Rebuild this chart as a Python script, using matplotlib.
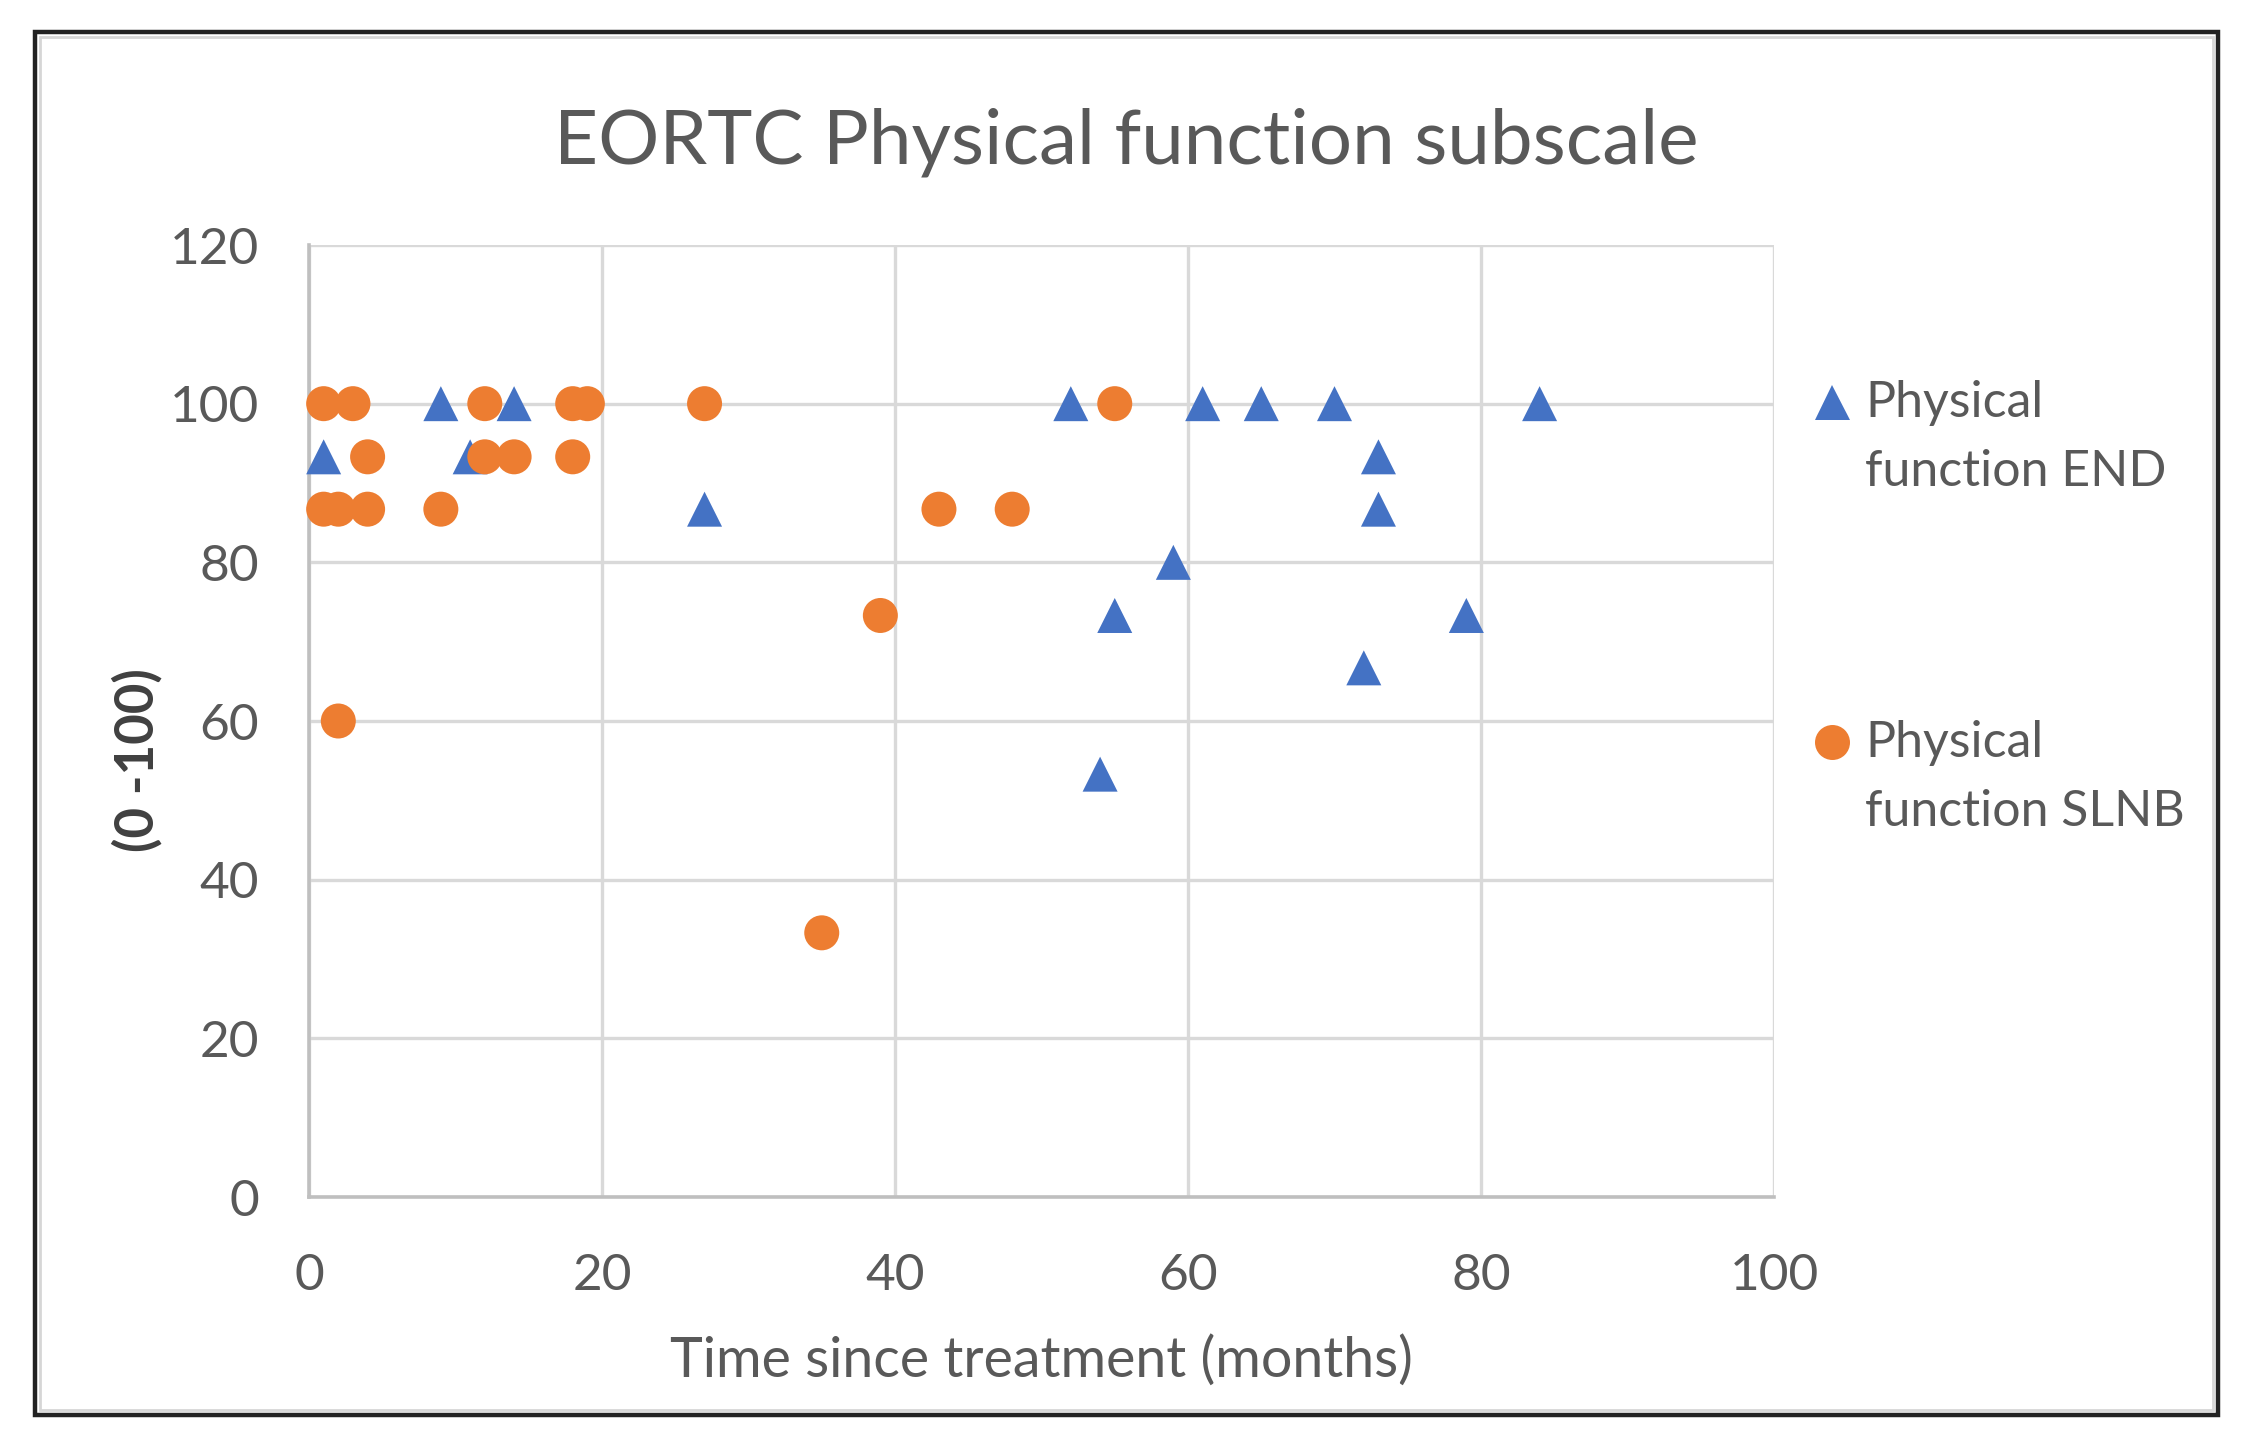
"""EORTC physical function scatter."""

import matplotlib.pyplot as plt
from matplotlib.lines import Line2D
from matplotlib.patches import Rectangle

plt.rcParams['font.family'] = ['Lato', 'DejaVu Sans']

# scores (0-100) against months since treatment
end_months = [1, 9, 11, 14, 27, 52, 54, 55, 59, 61, 65, 70, 72, 73, 73, 79, 84]
end_scores = [93.3, 100, 93.3, 100, 86.7, 100, 53.3, 73.3, 80, 100, 100, 100,
              66.7, 93.3, 86.7, 73.3, 100]

slnb_months = [1, 3, 12, 18, 19, 27, 55, 4, 12, 14, 18, 1, 2, 4, 9, 43, 48,
               39, 2, 35]
slnb_scores = [100, 100, 100, 100, 100, 100, 100, 93.3, 93.3, 93.3, 93.3,
               86.7, 86.7, 86.7, 86.7, 86.7, 86.7, 73.3, 60, 33.3]

x_ticks = [0, 20, 40, 60, 80, 100]
y_ticks = [0, 20, 40, 60, 80, 100, 120]
series_labels = ["Physical\nfunction END", "Physical\nfunction SLNB"]

BLUE = '#4472C4'
ORANGE = '#ED7D31'
TEXT = '#595959'
W, H = 2256, 1446

fig = plt.figure(figsize=(W / 200, H / 200), dpi=200)
ax = fig.add_axes([309 / W, 1 - 1197 / H, 1465 / W, 952 / H])

ax.scatter(end_months, end_scores, marker='^', s=12.6 ** 2, color=BLUE,
           edgecolors='none', zorder=3, clip_on=False)
ax.scatter(slnb_months, slnb_scores, marker='o', s=12.6 ** 2, color=ORANGE,
           edgecolors='none', zorder=4, clip_on=False)

ax.set_xlim(0, 100)
ax.set_ylim(0, 120)
ax.set_xticks(x_ticks)
ax.set_yticks(y_ticks)
ax.tick_params(length=0, labelsize=18.5, labelcolor=TEXT)
ax.tick_params(axis='x', pad=20)
ax.tick_params(axis='y', pad=18)
ax.grid(True, color='#D9D9D9', lw=1.2, zorder=0)
ax.set_axisbelow(True)
for side in ('top', 'right'):
    ax.spines[side].set_visible(False)
for side in ('left', 'bottom'):
    ax.spines[side].set_color('#BFBFBF')
    ax.spines[side].set_linewidth(1.3)

ax.set_xlabel("Time since treatment (months)", fontsize=20, color=TEXT,
              labelpad=13)
fig.text(137 / W, 1 - 760 / H, "(0 -100)", rotation=90, ha='center',
         va='center', fontsize=19, fontweight='bold', color='#404040')
fig.text(0.5 * (393 + 1173) * 1.439 / W, 1 - 142 / H,
         "EORTC Physical function subscale", ha='center', va='center',
         fontsize=27.5, color=TEXT)

# legend drawn by hand so the marker sits on the first line;
# matplotlib puts a multi-line baseline on the last line
legend_rows = [(BLUE, '^', 402, 486), (ORANGE, 'o', 742, 826)]
for (color, marker, ypix, base), label in zip(legend_rows, series_labels):
    fig.add_artist(Line2D([1832 / W], [1 - ypix / H], marker=marker,
                          markersize=12.6, color=color, markeredgewidth=0,
                          linestyle='none', transform=fig.transFigure))
    fig.text(1865 / W, 1 - base / H, label, ha='left', va='baseline',
             fontsize=18, color=TEXT, linespacing=1.62)

# chart frame
fig.add_artist(Rectangle((35 / W, 1 - 1415 / H), 2183 / W, 1383 / H,
                         fill=False, edgecolor='#222222', lw=1.6,
                         transform=fig.transFigure))
fig.add_artist(Rectangle((40 / W, 1 - 1410 / H), 2173 / W, 1373 / H,
                         fill=False, edgecolor='#D6D6D6', lw=1.0,
                         transform=fig.transFigure))

fig.savefig('out.png', dpi=200)
plt.close(fig)
